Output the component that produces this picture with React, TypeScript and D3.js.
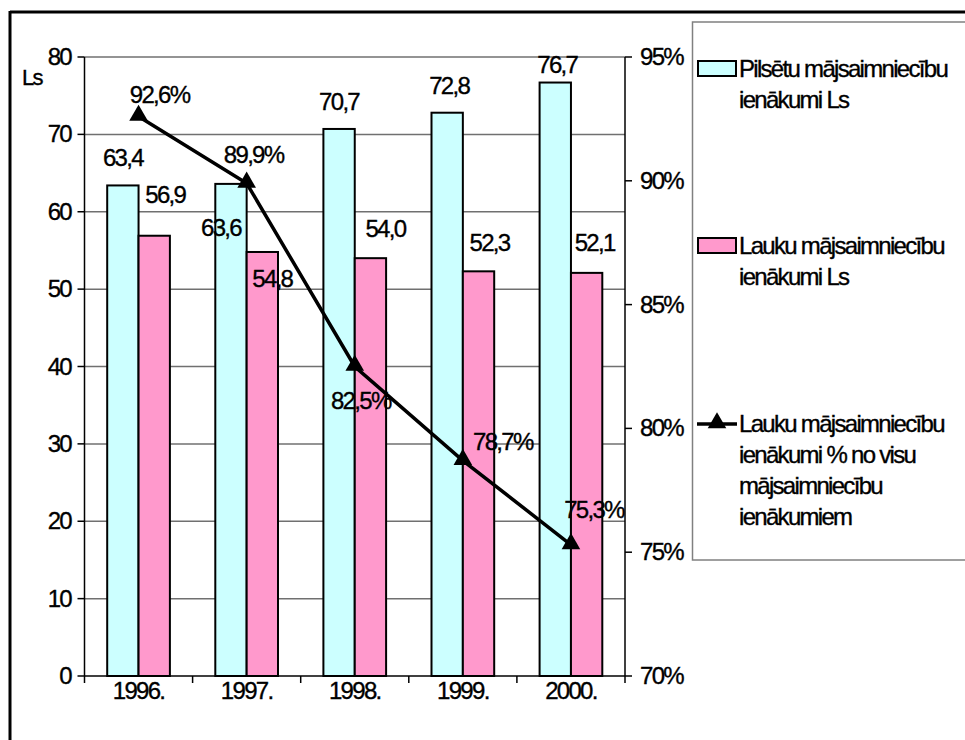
import React from "react";
import * as d3 from "d3";

const years = ["1996.", "1997.", "1998.", "1999.", "2000."];
const urbanIncome = [63.4, 63.6, 70.7, 72.8, 76.7];
const ruralIncome = [56.9, 54.8, 54.0, 52.3, 52.1];
const ruralShare = [92.6, 89.9, 82.5, 78.7, 75.3];
const leftTicks = [0, 10, 20, 30, 40, 50, 60, 70, 80];
const rightTicks = [70, 75, 80, 85, 90, 95];
const legendLabels = [
  ["Pilsētu mājsaimniecību", "ienākumi Ls"],
  ["Lauku mājsaimniecību", "ienākumi Ls"],
  ["Lauku mājsaimniecību", "ienākumi % no visu", "mājsaimniecību", "ienākumiem"],
];

const W = 965;
const H = 740;
const FONT = "'Liberation Sans', Arial, sans-serif";
const CYAN = "#CCFFFF";
const PINK = "#FF99CC";

// label placement tweaks (relative to the mark), mimicking the original layout
const urbanOff = [[0, -19], [-10, 52], [0, -19], [2, -19], [2, -10]];
const ruralOff = [[11, -33], [10, 35], [15, -21], [11, -20], [8, -22]];
const shareOff = [[21, -13], [7, -20], [6, 42], [40, -11], [23, -27]];

const fmt = (v: number) => v.toFixed(1).replace(".", ",");

function Triangle({ x, y, s }: { x: number; y: number; s: number }) {
  const path = d3.symbol().type(d3.symbolTriangle).size(s)();
  return <path d={path || ""} transform={`translate(${x},${y - 1})`} fill="#000" />;
}

export default function App() {
  const left = 84.5;
  const right = 625;
  const top = 57;
  const bottom = 676;

  const x = d3.scaleBand<string>().domain(years).range([left, right]).paddingInner(0).paddingOuter(0);
  const yL = d3.scaleLinear().domain([0, 80]).range([bottom, top]);
  const yR = d3.scaleLinear().domain([70, 95]).range([bottom, top]);
  const bw = x.bandwidth();
  const barW = bw * 0.29;

  const line = d3
    .line<number>()
    .x((_, i) => (x(years[i]) as number) + bw / 2)
    .y((d) => yR(d));

  const textStyle: React.CSSProperties = {
    fontFamily: FONT,
    fontSize: 24,
    letterSpacing: -1.7,
    stroke: "#000",
    strokeWidth: 0.35,
  };

  return (
    <svg width={W} height={H} style={{ position: "absolute", left: 0, top: 0, background: "#fff" }}>
      <rect x={0} y={0} width={W} height={H} fill="#fff" />
      {/* outer frame */}
      <line x1={10} y1={12} x2={W + 5} y2={12} stroke="#000" strokeWidth={3} />
      <line x1={10} y1={11} x2={10} y2={H + 5} stroke="#000" strokeWidth={3} />

      {/* gridlines */}
      {leftTicks.slice(1).map((t) => (
        <line key={"g" + t} x1={left} x2={right} y1={yL(t)} y2={yL(t)} stroke="#707070" strokeWidth={1.5} />
      ))}

      {/* bars */}
      {years.map((yr, i) => {
        const cx = (x(yr) as number) + bw / 2;
        return (
          <g key={yr}>
            <rect
              x={cx - barW}
              y={yL(urbanIncome[i])}
              width={barW}
              height={yL(0) - yL(urbanIncome[i])}
              fill={CYAN}
              stroke="#000"
              strokeWidth={2}
            />
            <rect
              x={cx}
              y={yL(ruralIncome[i])}
              width={barW}
              height={yL(0) - yL(ruralIncome[i])}
              fill={PINK}
              stroke="#000"
              strokeWidth={2}
            />
          </g>
        );
      })}

      {/* axes */}
      <line x1={left} x2={left} y1={top} y2={bottom} stroke="#000" strokeWidth={1.5} />
      <line x1={right} x2={right} y1={top} y2={bottom} stroke="#000" strokeWidth={1.5} />
      <line x1={left} x2={right} y1={bottom} y2={bottom} stroke="#000" strokeWidth={1.5} />
      {leftTicks.map((t) => (
        <g key={"l" + t}>
          <line x1={left - 7} x2={left} y1={yL(t)} y2={yL(t)} stroke="#000" strokeWidth={1.5} />
          <text x={71} y={yL(t) + 8} textAnchor="end" style={textStyle}>
            {t}
          </text>
        </g>
      ))}
      {rightTicks.map((t) => (
        <g key={"r" + t}>
          <line x1={right} x2={right + 7} y1={yR(t)} y2={yR(t)} stroke="#000" strokeWidth={1.5} />
          <text x={640} y={yR(t) + 8} style={textStyle}>
            {t}%
          </text>
        </g>
      ))}
      {[...years.map((yr) => x(yr) as number), right].map((px, i) => (
        <line key={"xt" + i} x1={px} x2={px} y1={bottom} y2={bottom + 7} stroke="#000" strokeWidth={1.5} />
      ))}
      {years.map((yr) => (
        <text key={"xl" + yr} x={(x(yr) as number) + bw / 2} y={699} textAnchor="middle" style={textStyle}>
          {yr}
        </text>
      ))}
      <text x={22} y={85} style={{ ...textStyle, fontSize: 22 }}>
        Ls
      </text>

      {/* line series */}
      <path d={line(ruralShare) || ""} fill="none" stroke="#000" strokeWidth={3.5} />
      {ruralShare.map((v, i) => (
        <Triangle key={"t" + i} x={(x(years[i]) as number) + bw / 2} y={yR(v)} s={150} />
      ))}

      {/* data labels */}
      {years.map((yr, i) => {
        const cx = (x(yr) as number) + bw / 2;
        return (
          <g key={"dl" + yr}>
            <text
              x={cx - barW / 2 + urbanOff[i][0]}
              y={yL(urbanIncome[i]) + urbanOff[i][1]}
              textAnchor="middle"
              style={textStyle}
            >
              {fmt(urbanIncome[i])}
            </text>
            <text
              x={cx + barW / 2 + ruralOff[i][0]}
              y={yL(ruralIncome[i]) + ruralOff[i][1]}
              textAnchor="middle"
              style={textStyle}
            >
              {fmt(ruralIncome[i])}
            </text>
            <text
              x={cx + shareOff[i][0]}
              y={yR(ruralShare[i]) + shareOff[i][1]}
              textAnchor="middle"
              style={textStyle}
            >
              {fmt(ruralShare[i])}%
            </text>
          </g>
        );
      })}

      {/* legend */}
      <rect x={692.5} y={22} width={W} height={538} fill="#fff" stroke="#808080" strokeWidth={1.5} />
      <rect x={698} y={61} width={38} height={15} fill={CYAN} stroke="#000" strokeWidth={2} />
      <rect x={698} y={238} width={38} height={15} fill={PINK} stroke="#000" strokeWidth={2} />
      <line x1={697} x2={737} y1={424} y2={424} stroke="#000" strokeWidth={3.5} />
      <Triangle x={717} y={424} s={150} />
      {legendLabels.map((lines, k) =>
        lines.map((ln, j) => (
          <text key={`lg${k}-${j}`} x={739} y={[77, 254, 432][k] + j * 31} style={textStyle}>
            {ln}
          </text>
        ))
      )}
    </svg>
  );
}
